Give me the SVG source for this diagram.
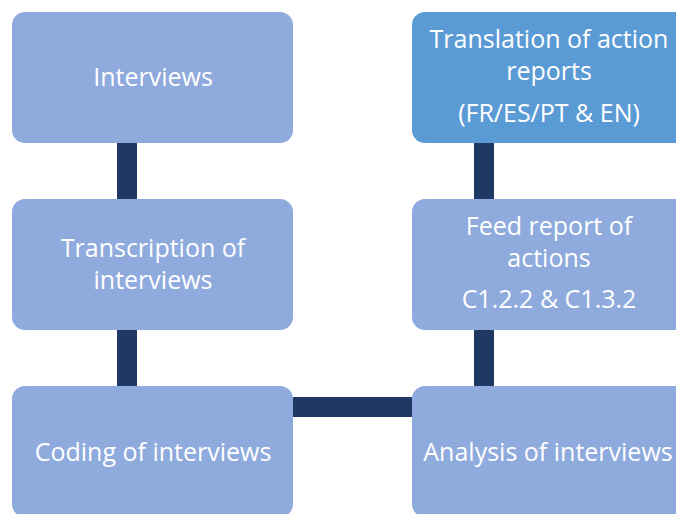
<svg xmlns="http://www.w3.org/2000/svg" width="676" height="514" viewBox="0 0 676 514">
  <style>
    .box { fill: #8faadc; }
    .box.dark { fill: #5b9bd5; }
    .bar { fill: #1f3864; }
    text { font-family: "Open Sans", "Liberation Sans", sans-serif; font-size: 25px; fill: #ffffff; text-anchor: middle; }
  </style>
  <rect width="676" height="514" fill="#ffffff"/>
  <!-- connectors -->
  <g id="connectors">
    <rect class="bar" x="117" y="143" width="20" height="56"/>
    <rect class="bar" x="117" y="330" width="20" height="56"/>
    <rect class="bar" x="474" y="143" width="20" height="56"/>
    <rect class="bar" x="474" y="330" width="20" height="56"/>
    <rect class="bar" x="293" y="397" width="119" height="20"/>
  </g>
  <g id="interviews">
    <rect class="box" x="12" y="12" width="281" height="131" rx="13"/>
    <text x="153" y="86">Interviews</text>
  </g>
  <g id="transcription">
    <rect class="box" x="12" y="199" width="281" height="131" rx="13"/>
    <text x="153" y="257">Transcription of</text>
    <text x="153" y="289">interviews</text>
  </g>
  <g id="coding">
    <rect class="box" x="12" y="386" width="281" height="131" rx="13"/>
    <text x="153" y="461">Coding of interviews</text>
  </g>
  <g id="translation">
    <rect class="box dark" x="412" y="12" width="281" height="131" rx="13"/>
    <text x="549" y="48">Translation of action</text>
    <text x="549" y="80">reports</text>
    <text x="549" y="122">(FR/ES/PT &amp; EN)</text>
  </g>
  <g id="feed">
    <rect class="box" x="412" y="199" width="281" height="131" rx="13"/>
    <text x="549" y="235">Feed report of</text>
    <text x="549" y="267">actions</text>
    <text x="549" y="308">C1.2.2 &amp; C1.3.2</text>
  </g>
  <g id="analysis">
    <rect class="box" x="412" y="386" width="281" height="131" rx="13"/>
    <text x="548" y="461">Analysis of interviews</text>
  </g>
</svg>
